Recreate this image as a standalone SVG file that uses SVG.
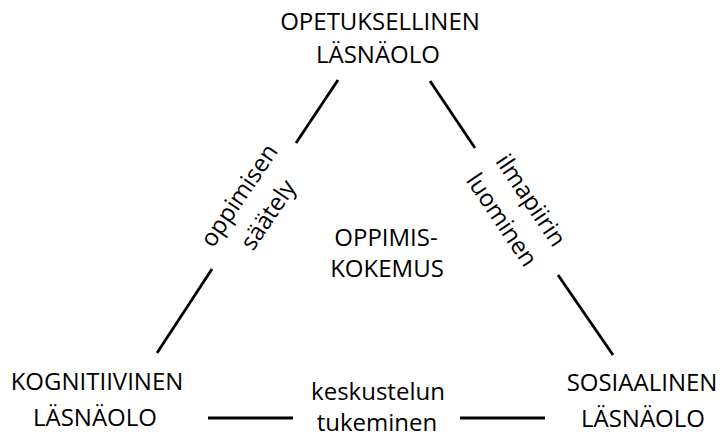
<svg xmlns="http://www.w3.org/2000/svg" width="722" height="438" viewBox="0 0 722 438">
<style>
text{font-family:"Open Sans","Noto Sans","Liberation Sans",sans-serif;font-size:24px;fill:#000;text-anchor:middle}
.c line{stroke:#000;stroke-width:2.8;stroke-linecap:butt}
</style>
<rect width="722" height="438" fill="#fff"/>
<g class="c" id="connectors">
<line x1="338" y1="80" x2="296" y2="143"/>
<line x1="212" y1="269" x2="157" y2="353"/>
<line x1="430" y1="81" x2="475" y2="148"/>
<line x1="558" y1="275" x2="613" y2="355"/>
<line x1="208" y1="418" x2="293" y2="418"/>
<line x1="460" y1="418" x2="545" y2="418"/>
</g>
<g id="opetuksellinen">
<text x="380" y="30">OPETUKSELLINEN</text>
<text x="378" y="63">LÄSNÄOLO</text>
</g>
<g id="oppimiskokemus">
<text x="386" y="246">OPPIMIS-</text>
<text x="387" y="277">KOKEMUS</text>
</g>
<g id="kognitiivinen">
<text x="97" y="390">KOGNITIIVINEN</text>
<text x="95" y="426">LÄSNÄOLO</text>
</g>
<g id="sosiaalinen">
<text x="642" y="391">SOSIAALINEN</text>
<text x="643" y="427">LÄSNÄOLO</text>
</g>
<g id="label-keskustelun">
<text x="378" y="400">keskustelun</text>
<text x="377" y="431">tukeminen</text>
</g>
<g id="label-oppimisen" transform="translate(255,206) rotate(-56)">
<text x="0" y="-11">oppimisen</text>
<text x="0" y="24">säätely</text>
</g>
<g id="label-ilmapiirin" transform="translate(515,211) rotate(56)">
<text x="0" y="-11">ilmapiirin</text>
<text x="0" y="24">luominen</text>
</g>
</svg>
